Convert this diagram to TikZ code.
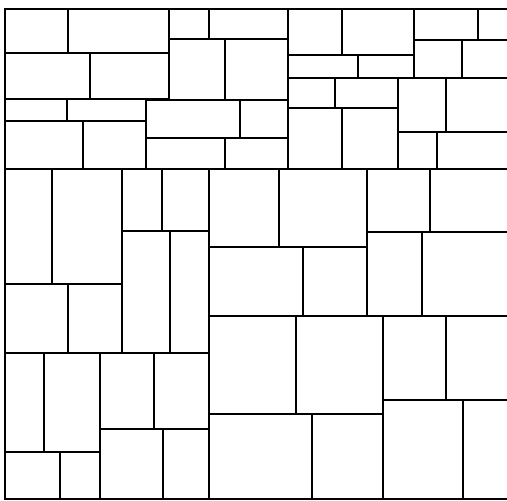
\documentclass[tikz,border=0pt]{standalone}
\usepackage{tikz}

\begin{document}
\begin{tikzpicture}[
				x=1pt, y=-1pt,
				tile/.style={draw=black, line width=1.4pt, line join=miter}
			]
			% Frame
			\useasboundingbox (0,0) rectangle (507,501);
			\clip (0,0) rectangle (507,501);

			% Top band
			\foreach \xa/\ya/\xb/\yb in {5/9/68/53, 68/9/169/53, 169/9/209/39, 209/9/288/39,
					5/53/90/99, 90/53/169/99, 169/39/225/100, 225/39/288/100,
					5/99/67/121, 67/99/146/121, 5/121/83/169, 83/121/146/169,
					146/100/240/138, 240/100/288/138, 146/138/225/169, 225/138/288/169,
					288/9/342/55, 342/9/414/55, 288/55/358/78, 358/55/414/78,
					414/9/478/40, 478/9/512/40, 414/40/462/78, 462/40/512/78,
					288/78/335/108, 335/78/398/108, 288/108/342/169, 342/108/398/169,
					398/78/446/132, 446/78/512/132, 398/132/437/169, 437/132/512/169} {
					\draw[tile] (\xa,\ya) rectangle (\xb,\yb);
				}

			% Middle band
			\foreach \xa/\ya/\xb/\yb in {5/169/52/284, 52/169/122/284, 5/284/68/353, 68/284/122/353,
					122/169/162/231, 162/169/209/231, 122/231/170/353, 170/231/209/353,
					209/169/279/247, 279/169/367/247, 209/247/303/316, 303/247/367/316,
					367/169/430/232, 430/169/512/232, 367/232/422/316, 422/232/512/316} {
					\draw[tile] (\xa,\ya) rectangle (\xb,\yb);
				}

			% Bottom band
			\foreach \xa/\ya/\xb/\yb in {209/316/296/414, 296/316/383/414, 209/414/312/499, 312/414/383/499,
					383/316/446/400, 446/316/512/400, 383/400/463/499, 463/400/512/499,
					5/353/44/452, 44/353/100/452, 5/452/60/499, 60/452/100/499,
					100/353/154/429, 154/353/209/429, 100/429/163/499, 163/429/209/499} {
					\draw[tile] (\xa,\ya) rectangle (\xb,\yb);
				}
		\end{tikzpicture}
\end{document}
